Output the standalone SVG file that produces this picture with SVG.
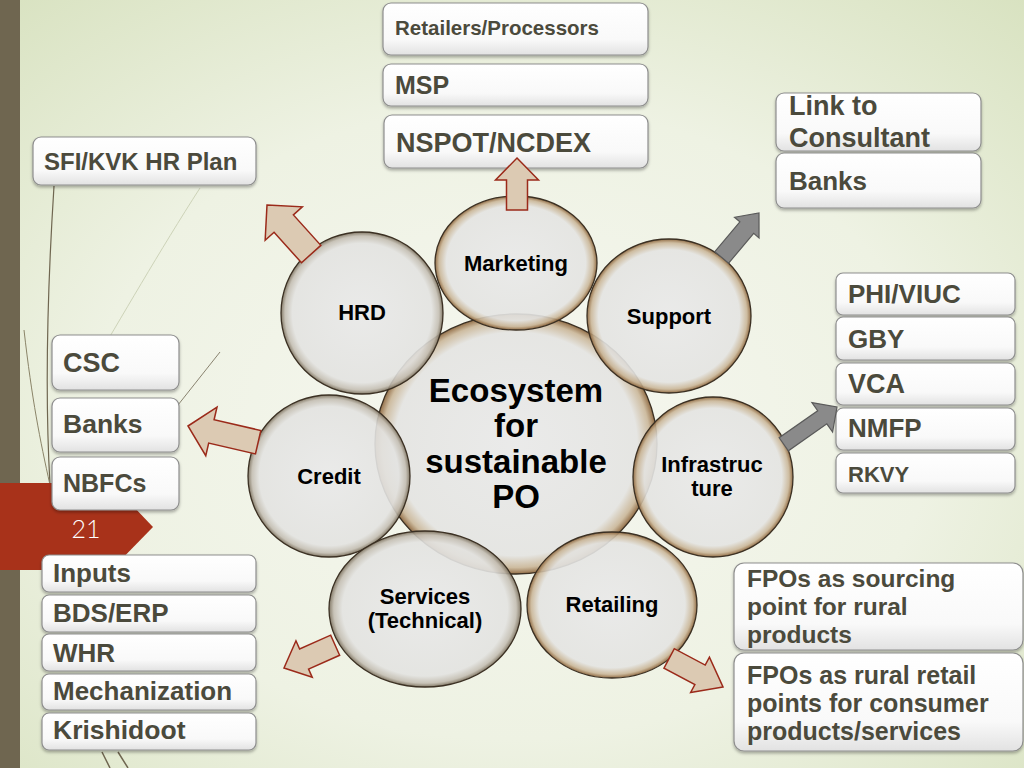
<svg xmlns="http://www.w3.org/2000/svg" width="1024" height="768" viewBox="0 0 1024 768">
<defs>
<radialGradient id="bg" cx="0.5" cy="0.55" r="0.75">
<stop offset="0" stop-color="#f6f7f0"/>
<stop offset="0.55" stop-color="#eef2e3"/>
<stop offset="1" stop-color="#d8e2c0"/>
</radialGradient>
<linearGradient id="boxg" x1="0" y1="0" x2="0" y2="1">
<stop offset="0" stop-color="#ffffff"/>
<stop offset="0.7" stop-color="#f9f9f9"/>
<stop offset="1" stop-color="#e2e2e2"/>
</linearGradient>
<radialGradient id="orbB" cx="0.5" cy="0.5" r="0.5">
<stop offset="0" stop-color="#e9e9e9" stop-opacity="0.9"/>
<stop offset="0.86" stop-color="#e4e4e2" stop-opacity="0.9"/>
<stop offset="0.95" stop-color="#c9b597" stop-opacity="0.88"/>
<stop offset="1" stop-color="#8a6238" stop-opacity="0.92"/>
</radialGradient>
<radialGradient id="orbG" cx="0.5" cy="0.5" r="0.5">
<stop offset="0" stop-color="#e9e9e9" stop-opacity="0.9"/>
<stop offset="0.86" stop-color="#e3e3e1" stop-opacity="0.9"/>
<stop offset="0.95" stop-color="#c3bdb2" stop-opacity="0.88"/>
<stop offset="1" stop-color="#7a6f5c" stop-opacity="0.92"/>
</radialGradient>
<filter id="sh" x="-10%" y="-20%" width="120%" height="150%">
<feDropShadow dx="0" dy="2" stdDeviation="1.5" flood-color="#000" flood-opacity="0.3"/>
</filter>
<style>
.box{fill:url(#boxg);stroke:#8e8e8e;stroke-width:1.2;filter:url(#sh)}
.bt{font-family:"Liberation Sans",Arial,sans-serif;font-weight:bold;fill:#4b4a3c}
.ct{font-family:"Liberation Sans",Arial,sans-serif;font-weight:bold;fill:#000;text-anchor:middle;font-size:22px}
.orbB{fill:url(#orbB);stroke:#3b3023;stroke-width:1.3}
.orbG{fill:url(#orbG);stroke:#3b3023;stroke-width:1.3}
.tan{fill:#dccab3;stroke:#9b2a1a;stroke-width:1.5;stroke-linejoin:miter}
.gray{fill:#8a8a8a;stroke:#5a5a5a;stroke-width:1.2}
</style>
</defs>

<!-- background -->
<rect width="1024" height="768" fill="url(#bg)"/>
<rect x="0" y="0" width="20" height="768" fill="#6f6650"/>
<g fill="none">
<path stroke="#6f6650" stroke-width="1.2" d="M54 186 C48 280 44 380 50 485"/>
<path stroke="#8a8468" stroke-width="1" d="M24 330 C32 400 40 440 50 485"/>
<path stroke="#cdd3b8" stroke-width="1" d="M200 188 C160 250 120 320 90 370"/>
<path stroke="#6f6650" stroke-width="0.8" d="M220 352 L178 405"/>
<path stroke="#6f6650" stroke-width="1.5" d="M102 752 L110 768 M118 752 L128 768"/>
</g>

<!-- page number tag -->
<polygon points="0,483 111,483 153,527 111,570 0,570" fill="#a8321a"/>
<text x="86" y="538" font-family="Lato,'Liberation Sans',sans-serif" font-weight="300" font-size="25" fill="#ffffff" text-anchor="middle">21</text>

<!-- circles -->
<g id="n-center"><ellipse class="orbB" cx="516" cy="444" rx="141" ry="130"/></g>
<g id="n-marketing"><ellipse class="orbB" cx="516" cy="263" rx="81" ry="67"/><text class="ct" x="516" y="271">Marketing</text></g>
<g id="n-hrd"><ellipse class="orbG" cx="362" cy="313" rx="81" ry="81"/><text class="ct" x="362" y="320">HRD</text></g>
<g id="n-support"><ellipse class="orbB" cx="669" cy="316" rx="82" ry="77"/><text class="ct" x="669" y="324">Support</text></g>
<g id="n-credit"><ellipse class="orbG" cx="329" cy="476" rx="81" ry="81"/><text class="ct" x="329" y="484">Credit</text></g>
<g id="n-infra"><ellipse class="orbB" cx="713" cy="477" rx="80" ry="80"/><text class="ct" x="712" y="472">Infrastruc</text><text class="ct" x="712" y="496">ture</text></g>
<g id="n-services"><ellipse class="orbG" cx="425" cy="609" rx="96" ry="78"/><text class="ct" x="425" y="604">Services</text><text class="ct" x="425" y="628">(Technical)</text></g>
<g id="n-retailing"><ellipse class="orbB" cx="612" cy="605" rx="85" ry="73"/><text class="ct" x="612" y="612">Retailing</text></g>
<g id="n-center-label" font-family="'Liberation Sans',Arial,sans-serif" font-weight="bold" font-size="33" text-anchor="middle" fill="#000">
<text x="516" y="402">Ecosystem</text>
<text x="516" y="437">for</text>
<text x="516" y="473">sustainable</text>
<text x="516" y="508">PO</text>
</g>

<!-- top boxes -->
<g id="b-retailers"><rect class="box" x="383" y="3" width="265" height="52" rx="8"/><text class="bt" x="395" y="35" font-size="20.5">Retailers/Processors</text></g>
<g id="b-msp"><rect class="box" x="383" y="64" width="265" height="42" rx="8"/><text class="bt" x="395" y="94" font-size="25">MSP</text></g>
<g id="b-nspot"><rect class="box" x="384" y="115" width="264" height="53" rx="8"/><text class="bt" x="396" y="152" font-size="27">NSPOT/NCDEX</text></g>
<g id="b-sfi"><rect class="box" x="33" y="137" width="223" height="48" rx="8"/><text class="bt" x="44" y="170" font-size="24">SFI/KVK HR Plan</text></g>

<!-- support boxes -->
<g id="b-link"><rect class="box" x="776" y="93" width="205" height="58" rx="8"/><text class="bt" x="789" y="115" font-size="27">Link to</text><text class="bt" x="789" y="147" font-size="27">Consultant</text></g>
<g id="b-banks-r"><rect class="box" x="776" y="153" width="205" height="55" rx="8"/><text class="bt" x="789" y="190" font-size="26">Banks</text></g>

<!-- infrastructure boxes -->
<g id="b-phi"><rect class="box" x="836" y="273" width="179" height="42" rx="7"/><text class="bt" x="848" y="303" font-size="26">PHI/VIUC</text></g>
<g id="b-gby"><rect class="box" x="836" y="317" width="179" height="43" rx="7"/><text class="bt" x="848" y="348" font-size="26">GBY</text></g>
<g id="b-vca"><rect class="box" x="836" y="363" width="179" height="42" rx="7"/><text class="bt" x="848" y="393" font-size="27">VCA</text></g>
<g id="b-nmfp"><rect class="box" x="836" y="408" width="179" height="42" rx="7"/><text class="bt" x="848" y="437" font-size="26">NMFP</text></g>
<g id="b-rkvy"><rect class="box" x="836" y="453" width="179" height="40" rx="7"/><text class="bt" x="848" y="482" font-size="22">RKVY</text></g>

<!-- credit boxes -->
<g id="b-csc"><rect class="box" x="52" y="335" width="127" height="55" rx="8"/><text class="bt" x="63" y="372" font-size="27">CSC</text></g>
<g id="b-banks-l"><rect class="box" x="52" y="398" width="127" height="54" rx="8"/><text class="bt" x="63" y="433" font-size="26.5">Banks</text></g>
<g id="b-nbfc"><rect class="box" x="52" y="457" width="127" height="53" rx="8"/><text class="bt" x="63" y="492" font-size="25">NBFCs</text></g>

<!-- services boxes -->
<g id="b-inputs"><rect class="box" x="42" y="555" width="214" height="37" rx="7"/><text class="bt" x="53" y="582" font-size="26">Inputs</text></g>
<g id="b-bds"><rect class="box" x="42" y="595" width="214" height="37" rx="7"/><text class="bt" x="53" y="622" font-size="26">BDS/ERP</text></g>
<g id="b-whr"><rect class="box" x="42" y="634" width="214" height="37" rx="7"/><text class="bt" x="53" y="662" font-size="26">WHR</text></g>
<g id="b-mech"><rect class="box" x="42" y="674" width="214" height="36" rx="7"/><text class="bt" x="53" y="700" font-size="26">Mechanization</text></g>
<g id="b-krishi"><rect class="box" x="42" y="713" width="214" height="37" rx="7"/><text class="bt" x="53" y="739" font-size="26.5">Krishidoot</text></g>

<!-- retailing boxes -->
<g id="b-fpo1"><rect class="box" x="734" y="563" width="289" height="87" rx="10"/>
<text class="bt" x="747" y="587" font-size="24.5">FPOs as sourcing</text>
<text class="bt" x="747" y="615" font-size="24.5">point for rural</text>
<text class="bt" x="747" y="643" font-size="24.5">products</text></g>
<g id="b-fpo2"><rect class="box" x="734" y="653" width="289" height="98" rx="10"/>
<text class="bt" x="747" y="684" font-size="25">FPOs as rural retail</text>
<text class="bt" x="747" y="712" font-size="25">points for consumer</text>
<text class="bt" x="747" y="740" font-size="25">products/services</text></g>

<!-- connectors (block arrows), drawn on top -->
<g id="connectors">
<polygon class="tan" transform="translate(517,158)" points="0,0 21.5,22 10.5,22 10.5,52 -10.5,52 -10.5,22 -21.5,22"/>
<polygon class="tan" transform="translate(267,205) rotate(-42)" points="0,0 25,25 13,25 13,66 -13,66 -13,25 -25,25"/>
<polygon class="gray" transform="translate(759,213) rotate(40)" points="0,0 16,19 9,19 9,58 -9,58 -9,19 -16,19"/>
<polygon class="gray" transform="translate(837,407) rotate(55)" points="0,0 18,18 8,18 8,65 -8,65 -8,18 -18,18"/>
<polygon class="tan" transform="translate(188,426) rotate(-77)" points="0,0 25,24 12,24 12,72 -12,72 -12,24 -25,24"/>
<polygon class="tan" transform="translate(284,668) rotate(-114)" points="0,0 20,22 11,22 11,56 -11,56 -11,22 -20,22"/>
<polygon class="tan" transform="translate(723,687) rotate(118)" points="0,0 20,26 11,26 11,61 -11,61 -11,26 -20,26"/>
</g>
</svg>
